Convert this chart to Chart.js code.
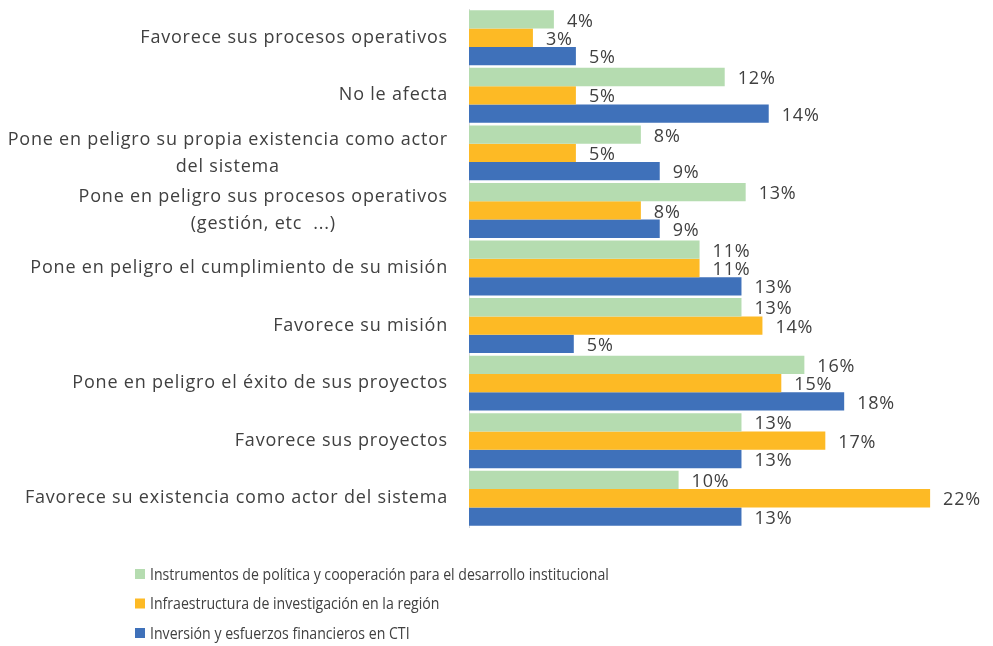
<!DOCTYPE html>
<html>
<head>
<meta charset="utf-8">
<script src="https://cdn.jsdelivr.net/npm/chart.js@4/dist/chart.umd.min.js"></script>
<style>
  html, body { margin: 0; padding: 0; background: #fff; }
  #wrap { width: 993px; height: 646px; position: relative; }
</style>
</head>
<body>
<div id="wrap"><canvas id="myChart"></canvas></div>
<script>
const categories = [
    ['Favorece sus procesos operativos'],
    ['No le afecta'],
    ['Pone en peligro su propia existencia como actor', 'del sistema'],
    ['Pone en peligro sus procesos operativos', '(gestión, etc  ...)'],
    ['Pone en peligro el cumplimiento de su misión'],
    ['Favorece su misión'],
    ['Pone en peligro el éxito de sus proyectos'],
    ['Favorece sus proyectos'],
    ['Favorece su existencia como actor del sistema']
];

const seriesNames = [
    'Instrumentos de política y cooperación para el desarrollo institucional',
    'Infraestructura de investigación en la región',
    'Inversión y esfuerzos financieros en CTI'
];

const instrumentos = [4.05, 12.2, 8.2, 13.2, 11.0, 13.0, 16.0, 13.0, 10.0];
const infraestructura = [3.05, 5.1, 5.1, 8.2, 11.0, 14.0, 14.9, 17.0, 22.0];
const inversion = [5.1, 14.3, 9.1, 9.1, 13.0, 5.0, 17.9, 13.0, 13.0];

const colors = ['#B5DCB0', '#FDBA25', '#3F71BA'];
const textColor = '#404040';
const fontFamily = '"Open Sans", sans-serif';

// category labels: block right aligned next to the axis, lines centered in the block
const categoryLabels = {
    id: 'categoryLabels',
    afterDraw(chart) {
        const { ctx } = chart;
        const yScale = chart.scales.y;
        const right = yScale.right - 21;
        const lineH = 27;
        ctx.save();
        ctx.font = '18px ' + fontFamily;
        ctx.letterSpacing = '0.8px';
        ctx.fillStyle = textColor;
        ctx.textAlign = 'center';
        ctx.textBaseline = 'middle';
        chart.data.labels.forEach((lines, i) => {
            const y = yScale.getPixelForTick(i);
            const w = Math.max(...lines.map(l => ctx.measureText(l).width));
            const cx = right - w / 2;
            const y0 = y - (lines.length - 1) * lineH / 2;
            lines.forEach((l, j) => ctx.fillText(l, cx, y0 + j * lineH));
        });
        ctx.restore();
    }
};

// value labels at the end of each bar
const valueLabels = {
    id: 'valueLabels',
    afterDatasetsDraw(chart) {
        const { ctx } = chart;
        ctx.save();
        ctx.font = '18px ' + fontFamily;
        ctx.letterSpacing = '0.8px';
        ctx.fillStyle = textColor;
        ctx.textAlign = 'left';
        ctx.textBaseline = 'middle';
        chart.data.datasets.forEach((ds, di) => {
            chart.getDatasetMeta(di).data.forEach((bar, i) => {
                ctx.fillText(Math.round(ds.data[i]) + '%', bar.x + 13, bar.y + 2);
            });
        });
        ctx.restore();
    }
};

// vertical legend under the plot
const stackedLegend = {
    id: 'stackedLegend',
    afterDraw(chart) {
        const { ctx } = chart;
        const x = 135;
        const top = 574;
        const step = 29.5;
        ctx.save();
        chart.data.datasets.forEach((ds, i) => {
            const y = top + i * step;
            ctx.fillStyle = ds.backgroundColor;
            ctx.fillRect(x, y - 5, 10, 10);
            ctx.save();
            ctx.translate(x + 15, y);
            ctx.scale(0.83, 1);
            ctx.font = '17px ' + fontFamily;
            ctx.fillStyle = textColor;
            ctx.textAlign = 'left';
            ctx.textBaseline = 'middle';
            ctx.fillText(ds.label, 0, 1);
            ctx.restore();
        });
        ctx.restore();
    }
};

new Chart(document.getElementById('myChart'), {
    type: 'bar',
    plugins: [categoryLabels, valueLabels, stackedLegend],
    data: {
        labels: categories,
        datasets: [
            { label: seriesNames[0], data: instrumentos, backgroundColor: colors[0] },
            { label: seriesNames[1], data: infraestructura, backgroundColor: colors[1] },
            { label: seriesNames[2], data: inversion, backgroundColor: colors[2] }
        ]
    },
    options: {
        indexAxis: 'y',
        responsive: true,
        maintainAspectRatio: false,
        animation: false,
        layout: {
            padding: { left: 0, right: 0, top: 9, bottom: 119 }
        },
        datasets: {
            bar: { categoryPercentage: 0.955, barPercentage: 1.0, borderWidth: 0 }
        },
        plugins: {
            legend: { display: false },
            tooltip: { enabled: false }
        },
        scales: {
            x: {
                display: false,
                min: 0,
                max: 25
            },
            y: {
                grid: { display: false },
                border: { display: true, color: '#D9D9D9', width: 1 },
                ticks: { display: false },
                afterFit(scale) { scale.width = 469; }
            }
        }
    }
});
</script>
</body>
</html>
